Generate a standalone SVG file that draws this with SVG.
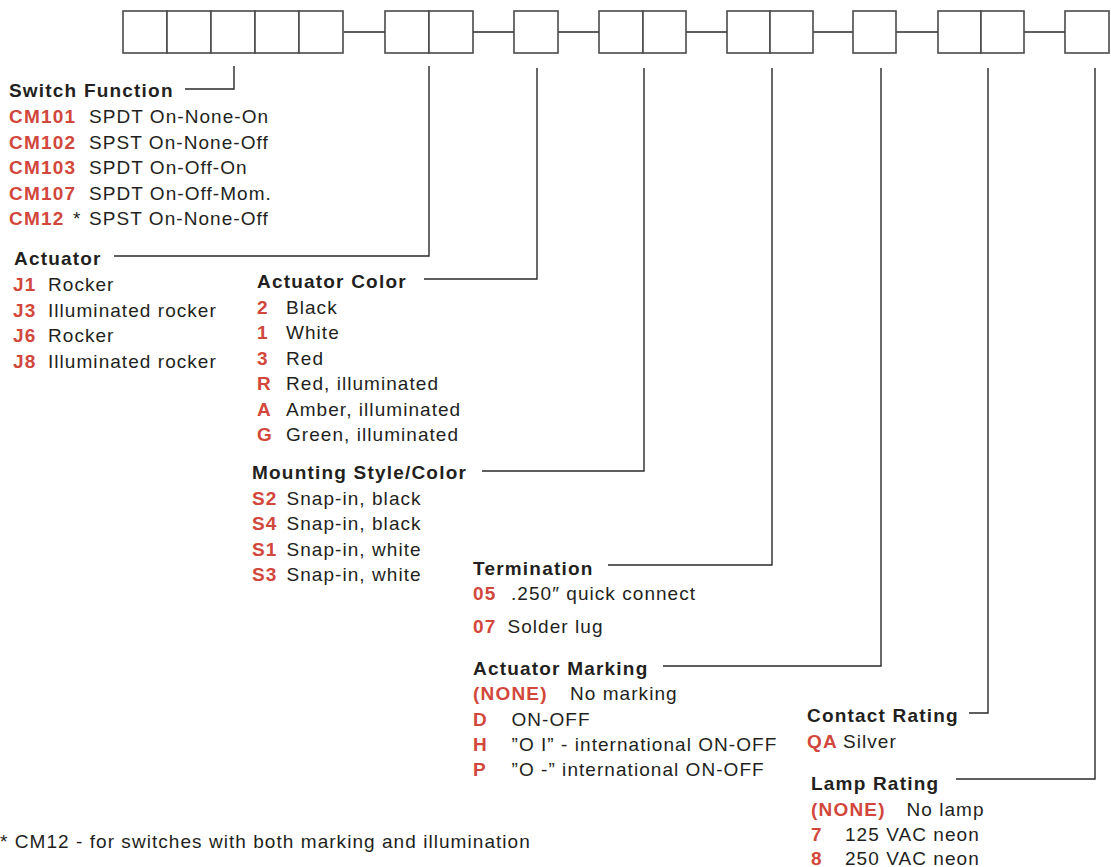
<svg xmlns="http://www.w3.org/2000/svg" width="1111" height="867" viewBox="0 0 1111 867">
<style>
  text { font-family: "Liberation Sans", Arial, sans-serif; font-size: 19px; letter-spacing: 1.05px; fill: #231f20; }
  .h { font-weight: bold; letter-spacing: 1.2px; }
  .c { font-weight: bold; fill: #d2473b; letter-spacing: 1.2px; }
  .box { fill: #fff; stroke: #4a4a4a; stroke-width: 1.6; }
  .ln { fill: none; stroke: #2a2a2a; stroke-width: 1.4; }
</style>
<rect width="1111" height="867" fill="#fff"/>

<g id="connectors">
  <path class="ln" d="M344 32H385 M473 32H514 M558 32H599 M686 32H727 M813 32H853 M896 32H938 M1024 32H1065"/>
  <path class="ln" d="M234 66V89H185"/>
  <path class="ln" d="M429 66V256H114"/>
  <path class="ln" d="M537 68V279H424"/>
  <path class="ln" d="M644 68V471H482"/>
  <path class="ln" d="M772 68V565H608"/>
  <path class="ln" d="M881 68V666H663"/>
  <path class="ln" d="M988 68V713H969"/>
  <path class="ln" d="M1095 68V779H956"/>
</g>

<g id="boxes">
  <rect class="box" x="123" y="11" width="44" height="42"/>
  <rect class="box" x="167" y="11" width="44" height="42"/>
  <rect class="box" x="211" y="11" width="44" height="42"/>
  <rect class="box" x="255" y="11" width="44" height="42"/>
  <rect class="box" x="299" y="11" width="44" height="42"/>
  <rect class="box" x="385" y="11" width="44" height="42"/>
  <rect class="box" x="429" y="11" width="44" height="42"/>
  <rect class="box" x="514" y="11" width="44" height="42"/>
  <rect class="box" x="599" y="11" width="44" height="42"/>
  <rect class="box" x="643" y="11" width="43" height="42"/>
  <rect class="box" x="727" y="11" width="43" height="42"/>
  <rect class="box" x="770" y="11" width="43" height="42"/>
  <rect class="box" x="853" y="11" width="43" height="42"/>
  <rect class="box" x="938" y="11" width="43" height="42"/>
  <rect class="box" x="981" y="11" width="43" height="42"/>
  <rect class="box" x="1065" y="11" width="44" height="42"/>
</g>

<g id="switch-function">
  <text class="h" x="9" y="97">Switch Function</text>
  <text class="c" x="9" y="123">CM101</text><text x="89" y="123">SPDT On-None-On</text>
  <text class="c" x="9" y="148.5">CM102</text><text x="89" y="148.5">SPST On-None-Off</text>
  <text class="c" x="9" y="174">CM103</text><text x="89" y="174">SPDT On-Off-On</text>
  <text class="c" x="9" y="199.5">CM107</text><text x="89" y="199.5">SPDT On-Off-Mom.</text>
  <text class="c" x="9" y="225">CM12</text><text x="73" y="225">*</text><text x="89" y="225">SPST On-None-Off</text>
</g>

<g id="actuator">
  <text class="h" x="14" y="265">Actuator</text>
  <text class="c" x="13" y="291">J1</text><text x="48" y="291">Rocker</text>
  <text class="c" x="13" y="316.5">J3</text><text x="48" y="316.5">Illuminated rocker</text>
  <text class="c" x="13" y="342">J6</text><text x="48" y="342">Rocker</text>
  <text class="c" x="13" y="367.5">J8</text><text x="48" y="367.5">Illuminated rocker</text>
</g>

<g id="actuator-color">
  <text class="h" x="257" y="288">Actuator Color</text>
  <text class="c" x="257" y="313.5">2</text><text x="286" y="313.5">Black</text>
  <text class="c" x="257" y="339">1</text><text x="286" y="339">White</text>
  <text class="c" x="257" y="364.5">3</text><text x="286" y="364.5">Red</text>
  <text class="c" x="257" y="390">R</text><text x="286" y="390">Red, illuminated</text>
  <text class="c" x="257" y="415.5">A</text><text x="286" y="415.5">Amber, illuminated</text>
  <text class="c" x="257" y="441">G</text><text x="286" y="441">Green, illuminated</text>
</g>

<g id="mounting">
  <text class="h" x="252" y="479">Mounting Style/Color</text>
  <text class="c" x="252" y="504.5">S2</text><text x="286.5" y="504.5">Snap-in, black</text>
  <text class="c" x="252" y="530">S4</text><text x="286.5" y="530">Snap-in, black</text>
  <text class="c" x="252" y="555.5">S1</text><text x="286.5" y="555.5">Snap-in, white</text>
  <text class="c" x="252" y="581">S3</text><text x="286.5" y="581">Snap-in, white</text>
</g>

<g id="termination">
  <text class="h" x="473" y="575">Termination</text>
  <text class="c" x="473" y="600">05</text><text x="511" y="600">.250″ quick connect</text>
  <text class="c" x="473" y="632.5">07</text><text x="507.5" y="632.5">Solder lug</text>
</g>

<g id="actuator-marking">
  <text class="h" x="473" y="675">Actuator Marking</text>
  <text class="c" x="473" y="700">(NONE)</text><text x="570" y="700">No marking</text>
  <text class="c" x="473" y="725.5">D</text><text x="511.5" y="725.5">ON-OFF</text>
  <text class="c" x="473" y="751">H</text><text x="511.5" y="751">”O I” - international ON-OFF</text>
  <text class="c" x="473" y="776">P</text><text x="511.5" y="776">”O -” international ON-OFF</text>
</g>

<g id="contact-rating">
  <text class="h" x="807" y="722">Contact Rating</text>
  <text class="c" x="807" y="748">QA</text><text x="843" y="748">Silver</text>
</g>

<g id="lamp-rating">
  <text class="h" x="811" y="790">Lamp Rating</text>
  <text class="c" x="811" y="815.5">(NONE)</text><text x="906.5" y="815.5">No lamp</text>
  <text class="c" x="811" y="840.5">7</text><text x="845" y="840.5">125 VAC neon</text>
  <text class="c" x="811" y="865">8</text><text x="845" y="865">250 VAC neon</text>
</g>

<g id="footnote">
  <text x="0" y="848">* CM12 - for switches with both marking and illumination</text>
</g>
</svg>
